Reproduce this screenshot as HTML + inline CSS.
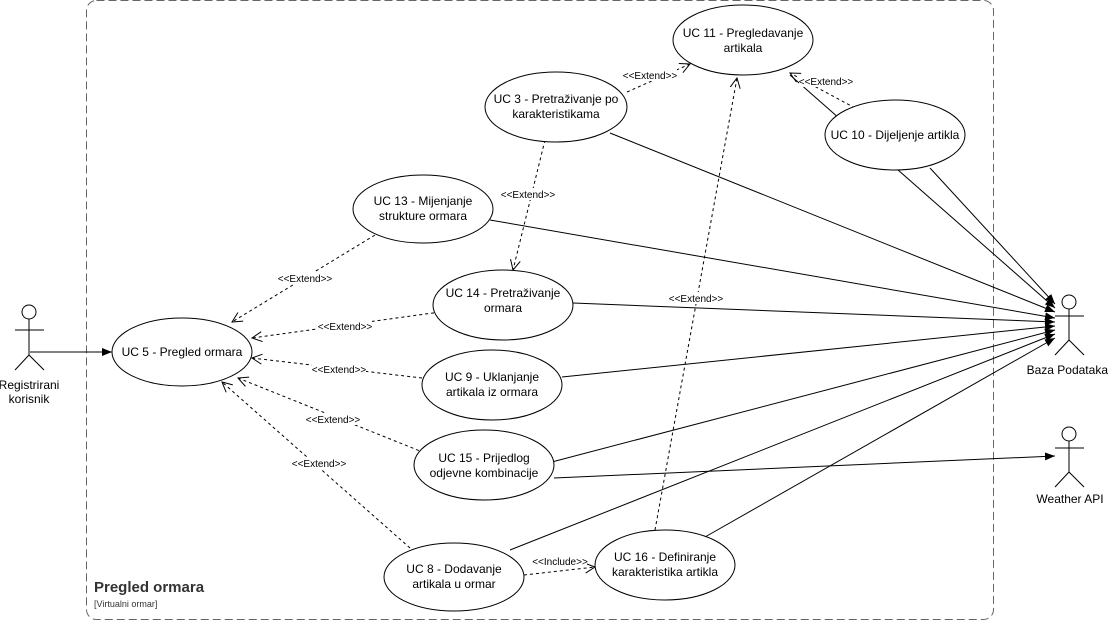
<!DOCTYPE html>
<html><head><meta charset="utf-8"><style>
html,body{margin:0;padding:0;background:#fff;}
svg{display:block;font-family:"Liberation Sans",Arial,sans-serif;}
</style></head><body>
<svg width="1109" height="621" viewBox="0 0 1109 621" xmlns="http://www.w3.org/2000/svg">
<defs>
<marker id="f" viewBox="0 0 10 10" refX="10" refY="5" markerWidth="10" markerHeight="10" orient="auto" markerUnits="userSpaceOnUse"><path d="M0,1 L10,5 L0,9 Z" fill="#000"/></marker>
<marker id="o" viewBox="0 0 12 12" refX="11" refY="6" markerWidth="12" markerHeight="12" orient="auto" markerUnits="userSpaceOnUse"><path d="M1,1 L11,6 L1,11" fill="none" stroke="#000" stroke-width="1"/></marker>
</defs>
<rect x="86.5" y="0.5" width="907" height="619" rx="10" fill="none" stroke="#666" stroke-dasharray="8,4"/>
<text x="94" y="592" font-size="15" font-weight="bold" fill="#333">Pregled ormara</text>
<text x="94" y="607" font-size="9" fill="#333">[Virtualni ormar]</text>

<g stroke="#000" fill="none" stroke-width="1">
<line x1="790" y1="75" x2="1055" y2="308" marker-end="url(#f)"/>
<line x1="930" y1="168" x2="1055" y2="304" marker-end="url(#f)"/>
<line x1="610" y1="133" x2="1055" y2="312" marker-end="url(#f)"/>
<line x1="490" y1="220" x2="1055" y2="318" marker-end="url(#f)"/>
<line x1="573" y1="303" x2="1055" y2="322" marker-end="url(#f)"/>
<line x1="562" y1="377" x2="1055" y2="326" marker-end="url(#f)"/>
<line x1="548" y1="463" x2="1055" y2="330" marker-end="url(#f)"/>
<line x1="510" y1="550" x2="1055" y2="334" marker-end="url(#f)"/>
<line x1="705" y1="537" x2="1055" y2="338" marker-end="url(#f)"/>
<line x1="554" y1="478" x2="1055" y2="456" marker-end="url(#f)"/>
<line x1="30" y1="352" x2="112" y2="352" marker-end="url(#f)"/>
</g>
<g stroke="#000" fill="none" stroke-width="1" stroke-dasharray="3,3">
<line x1="380" y1="232" x2="232" y2="322" marker-end="url(#o)"/>
<line x1="440" y1="312" x2="252" y2="338" marker-end="url(#o)"/>
<line x1="422" y1="378" x2="252" y2="358" marker-end="url(#o)"/>
<line x1="430" y1="455" x2="238" y2="378" marker-end="url(#o)"/>
<line x1="410" y1="548" x2="222" y2="382" marker-end="url(#o)"/>
<line x1="545" y1="140" x2="513" y2="270" marker-end="url(#o)"/>
<line x1="627" y1="92" x2="690" y2="64" marker-end="url(#o)"/>
<line x1="855" y1="108" x2="790" y2="73" marker-end="url(#o)"/>
<line x1="655" y1="530" x2="737" y2="78" marker-end="url(#o)"/>
<line x1="524" y1="575" x2="595" y2="567" marker-end="url(#o)"/>
</g>

<g fill="#fff" stroke="#000" stroke-width="1">
<ellipse cx="743" cy="40" rx="70" ry="35"/>
<ellipse cx="556" cy="107" rx="71" ry="35"/>
<ellipse cx="895" cy="135" rx="70" ry="35"/>
<ellipse cx="423" cy="209" rx="70" ry="34"/>
<ellipse cx="503" cy="305" rx="70" ry="35"/>
<ellipse cx="182" cy="352" rx="70" ry="34"/>
<ellipse cx="492" cy="385" rx="70" ry="35"/>
<ellipse cx="484" cy="465" rx="70" ry="35"/>
<ellipse cx="454" cy="577" rx="70" ry="34"/>
<ellipse cx="665" cy="565" rx="70" ry="35"/>
</g>

<g font-size="12" text-anchor="middle" fill="#000">
<text x="743" y="37">UC 11 - Pregledavanje</text><text x="743" y="52">artikala</text>
<text x="556" y="103">UC 3 - Pretraživanje po</text><text x="556" y="118">karakteristikama</text>
<text x="895" y="139">UC 10 - Dijeljenje artikla</text>
<text x="423" y="205">UC 13 - Mijenjanje</text><text x="423" y="220">strukture ormara</text>
<text x="503" y="297">UC 14 - Pretraživanje</text><text x="503" y="312">ormara</text>
<text x="182" y="356">UC 5 - Pregled ormara</text>
<text x="492" y="381">UC 9 - Uklanjanje</text><text x="492" y="396">artikala iz ormara</text>
<text x="484" y="462">UC 15 - Prijedlog</text><text x="484" y="477">odjevne kombinacije</text>
<text x="454" y="573">UC 8 - Dodavanje</text><text x="454" y="588">artikala u ormar</text>
<text x="665" y="561">UC 16 - Definiranje</text><text x="665" y="576">karakteristika artikla</text>
<text x="29" y="389">Registrirani</text><text x="29" y="403">korisnik</text>
<text x="1108" y="374" text-anchor="end">Baza Podataka</text>
<text x="1070" y="503">Weather API</text>
</g>

<g font-size="10" text-anchor="middle" fill="#000">
<g fill="#fff"><rect x="278" y="272" width="54" height="12"/><rect x="318" y="320" width="54" height="12"/><rect x="312" y="363" width="54" height="12"/><rect x="306" y="413" width="54" height="12"/><rect x="292" y="457" width="54" height="12"/><rect x="501" y="188" width="54" height="12"/><rect x="623" y="69" width="54" height="12"/><rect x="799" y="75" width="54" height="12"/><rect x="669" y="292" width="54" height="12"/><rect x="533" y="555" width="54" height="12"/></g>
<text x="305" y="282">&lt;&lt;Extend&gt;&gt;</text>
<text x="345" y="330">&lt;&lt;Extend&gt;&gt;</text>
<text x="339" y="373">&lt;&lt;Extend&gt;&gt;</text>
<text x="333" y="423">&lt;&lt;Extend&gt;&gt;</text>
<text x="319" y="467">&lt;&lt;Extend&gt;&gt;</text>
<text x="528" y="198">&lt;&lt;Extend&gt;&gt;</text>
<text x="650" y="79">&lt;&lt;Extend&gt;&gt;</text>
<text x="826" y="85">&lt;&lt;Extend&gt;&gt;</text>
<text x="696" y="302">&lt;&lt;Extend&gt;&gt;</text>
<text x="560" y="565">&lt;&lt;Include&gt;&gt;</text>
</g>

<g stroke="#000" fill="#fff" stroke-width="1">
<circle cx="29" cy="312" r="7"/>
<path d="M29,319 V355 M15,330 H44 M29,355 L15,370 M29,355 L44,370" fill="none"/>
<circle cx="1069" cy="302" r="7"/>
<path d="M1069,309 V340 M1055,316 H1084 M1069,340 L1055,355 M1069,340 L1084,355" fill="none"/>
<circle cx="1069" cy="434" r="7"/>
<path d="M1069,441 V472 M1055,448 H1084 M1069,472 L1055,487 M1069,472 L1084,487" fill="none"/>
</g>
</svg>
</body></html>
